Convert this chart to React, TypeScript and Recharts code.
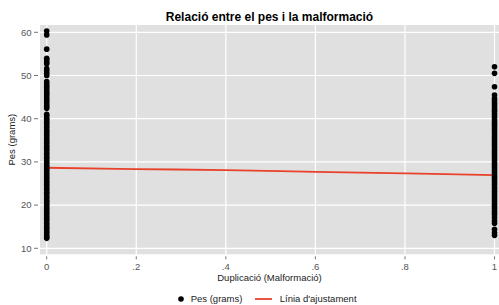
import React from 'react';
import { ComposedChart, Scatter, Line, XAxis, YAxis, CartesianGrid, Legend } from 'recharts';

const FONT = '"Liberation Sans", Arial, Helvetica, sans-serif';

const xTicks = [0, 0.2, 0.4, 0.6, 0.8, 1];
const yTicks = [10, 20, 30, 40, 50, 60];

// Pes (grams) for Duplicació = 0
const pesSenseDup = [
  60.3, 59.4, 56.1, 54.0, 53.6, 53.1, 52.7, 51.6, 51.1, 50.5, 50.0, 48.6, 48.1,
  47.6, 47.2, 46.7, 46.2, 45.8, 45.3, 44.8, 44.4, 43.9, 43.4, 42.9, 42.4, 41.0,
  40.6, 40.1, 39.7, 39.2, 38.8, 38.3, 37.9, 37.4, 37.0, 36.5, 36.1, 35.6, 35.2,
  34.7, 34.3, 33.8, 33.4, 32.9, 32.5, 32.0, 31.6, 31.1, 30.7, 30.2, 29.8, 29.3,
  28.9, 28.4, 28.0, 27.5, 27.1, 26.6, 26.2, 25.7, 25.3, 24.8, 24.4, 23.9, 23.5,
  23.0, 22.6, 22.1, 21.7, 21.2, 20.8, 20.3, 19.9, 19.4, 19.0, 18.5, 18.1, 17.6,
  17.2, 16.7, 16.3, 15.8, 15.4, 14.9, 14.5, 14.0, 13.6, 13.1, 12.7, 12.3,
];

// Pes (grams) for Duplicació = 1
const pesAmbDup = [
  52.0, 50.5, 47.4, 45.5, 44.7, 44.2, 43.7, 43.2, 42.7, 42.2, 41.7, 41.2, 40.7,
  40.2, 39.7, 39.2, 38.7, 38.2, 37.7, 37.2, 36.7, 36.2, 35.7, 35.2, 34.7, 34.2,
  33.7, 33.2, 32.7, 32.2, 31.7, 31.2, 30.7, 30.2, 29.7, 29.2, 28.7, 28.2, 27.7,
  27.2, 26.7, 26.2, 25.7, 25.2, 24.7, 24.2, 23.7, 23.2, 22.7, 22.2, 21.7, 21.2,
  20.7, 20.2, 19.7, 19.2, 18.7, 18.2, 17.8, 17.1, 16.4, 15.8, 14.4, 13.6, 13.0,
];

const fitX = [0, 0.2, 0.4, 0.6, 0.8, 1];
const fitY = [28.65, 28.35, 28.1, 27.7, 27.35, 26.95];

const points = [
  ...pesSenseDup.map((y) => ({ x: 0, y })),
  ...pesAmbDup.map((y) => ({ x: 1, y })),
];
const fitData = fitX.map((x, i) => ({ x, y: fitY[i] }));

const RED = '#e8412c';

const fmtX = (v: number) => (v === 0 ? '0' : v === 1 ? '1' : String(+v.toFixed(1)).replace(/^0/, ''));

const XTick = ({ x, y, payload }: any) => (
  <g>
    <line x1={x} x2={x} y1={y - 3} y2={y} stroke="#777" strokeWidth={1} />
    <text x={x} y={y + 11} textAnchor="middle" fontSize={9.5} fill="#555" fontFamily={FONT}>
      {fmtX(payload.value)}
    </text>
  </g>
);

const YTick = ({ x, y, payload }: any) => (
  <g>
    <line x1={x + 2} x2={x + 6} y1={y} y2={y} stroke="#777" strokeWidth={1} />
    <text x={x - 0.5} y={y + 3.4} textAnchor="end" fontSize={9.5} fill="#555" fontFamily={FONT}>
      {payload.value}
    </text>
  </g>
);

const Dot = ({ cx, cy }: any) => <circle cx={cx} cy={cy} r={2.8} fill="#000" />;

const LegendBox = () => (
  <div
    style={{
      height: 12,
      display: 'flex',
      alignItems: 'center',
      paddingLeft: 177,
      fontSize: 9.5,
      fontFamily: FONT,
      color: '#222',
      lineHeight: '12px',
    }}
  >
    <svg width={8} height={12}>
      <circle cx={4} cy={6} r={2.8} fill="#000" />
    </svg>
    <span style={{ marginLeft: 5.7 }}>Pes (grams)</span>
    <svg width={17} height={12} style={{ marginLeft: 13 }}>
      <line x1={0} x2={17} y1={6} y2={6} stroke={RED} strokeWidth={1.8} />
    </svg>
    <span style={{ marginLeft: 7.3 }}>Línia d'ajustament</span>
  </div>
);

export default function App() {
  return (
    <div style={{ position: 'relative', width: 499, height: 305, background: '#fff' }}>
      <style>{'body{margin:0}'}</style>
      <svg
        width={499}
        height={25}
        style={{ position: 'absolute', left: 0, top: 0, pointerEvents: 'none', zIndex: 2 }}
      >
        <text x={269.5} y={20.5} textAnchor="middle" fontSize={12} fontWeight="bold" fill="#000" fontFamily={FONT}>
          Relació entre el pes i la malformació
        </text>
      </svg>
      <ComposedChart width={499} height={305} margin={{ top: 25, right: 0, bottom: 0, left: 0 }}>
        <CartesianGrid
          fill="#e0e0e0"
          stroke="#fff"
          strokeWidth={1.2}
          horizontalValues={yTicks}
          verticalValues={xTicks}
        />
        <XAxis
          dataKey="x"
          type="number"
          domain={[-0.015, 1.01]}
          ticks={xTicks}
          interval={0}
          allowDataOverflow
          axisLine={false}
          tickLine={false}
          tickSize={5}
          tickMargin={0}
          height={38.7}
          tick={<XTick />}
          label={{
            content: ({ viewBox }: any) => (
              <text
                x={viewBox.x + viewBox.width / 2}
                y={viewBox.y + 27}
                textAnchor="middle"
                fontSize={9.5}
                fill="#222"
                fontFamily={FONT}
              >
                Duplicació (Malformació)
              </text>
            ),
          }}
        />
        <YAxis
          dataKey="y"
          type="number"
          domain={[8.61, 61.69]}
          ticks={yTicks}
          interval={0}
          allowDataOverflow
          axisLine={false}
          tickLine={false}
          tickSize={8}
          tickMargin={0}
          width={40}
          tick={<YTick />}
          label={{
            content: ({ viewBox }: any) => {
              const cy = viewBox.y + viewBox.height / 2;
              return (
                <text
                  x={15.1}
                  y={cy}
                  transform={`rotate(-90, 15.1, ${cy})`}
                  textAnchor="middle"
                  fontSize={9.5}
                  fill="#222"
                  fontFamily={FONT}
                >
                  Pes (grams)
                </text>
              );
            },
          }}
        />
        <Scatter name="Pes (grams)" data={points} fill="#000" shape={<Dot />} isAnimationActive={false} />
        <Line
          name="Línia d'ajustament"
          data={fitData}
          dataKey="y"
          type="monotone"
          stroke={RED}
          strokeWidth={1.8}
          dot={false}
          activeDot={false}
          isAnimationActive={false}
        />
        <Legend verticalAlign="bottom" align="left" content={<LegendBox />} />
      </ComposedChart>
    </div>
  );
}
